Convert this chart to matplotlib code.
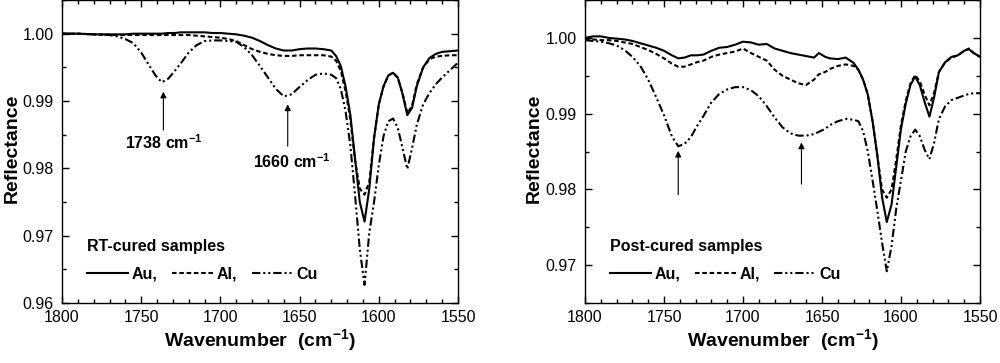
import matplotlib
matplotlib.use("Agg")
import matplotlib.pyplot as plt
from matplotlib.ticker import MultipleLocator, FormatStrFormatter

plt.rcParams["font.family"] = ["Liberation Sans", "DejaVu Sans"]
plt.rcParams["mathtext.fontset"] = "custom"
plt.rcParams["mathtext.rm"] = "Liberation Sans"
plt.rcParams["mathtext.bf"] = "Liberation Sans:bold"

# ---------------------------------------------------------------------------
# Data
# ---------------------------------------------------------------------------

# RT-cured samples
wn_rt = [1800, 1790, 1780, 1770, 1765, 1760, 1755, 1750, 1745, 1741,
         1737, 1733, 1729, 1725, 1720, 1715, 1710, 1705, 1700, 1695,
         1690, 1685, 1680, 1675, 1670, 1665, 1660, 1655, 1650, 1645,
         1640, 1635, 1630, 1627, 1624, 1621, 1618, 1615, 1612, 1609,
         1606, 1603, 1600, 1597, 1594, 1591, 1588, 1585, 1582, 1579,
         1576, 1572, 1568, 1564, 1560, 1555, 1550]
au_rt = [1.0000, 1.0000, 0.9999, 0.9999, 0.9999, 0.9999, 1.0000, 1.0000, 1.0000, 1.0000,
         1.0000, 1.0001, 1.0001, 1.0002, 1.0002, 1.0002, 1.0002, 1.0001, 1.0001, 1.0000,
         0.9999, 0.9997, 0.9994, 0.9989, 0.9983, 0.9978, 0.9975, 0.9975, 0.9977, 0.9978,
         0.9978, 0.9977, 0.9975, 0.9967, 0.9952, 0.9922, 0.9880, 0.9815, 0.9750, 0.9721,
         0.9770, 0.9845, 0.9895, 0.9922, 0.9938, 0.9942, 0.9935, 0.9910, 0.9879, 0.9890,
         0.9922, 0.9950, 0.9964, 0.9970, 0.9973, 0.9974, 0.9975]
al_rt = [1.0000, 1.0000, 0.9999, 0.9998, 0.9998, 0.9998, 0.9998, 0.9998, 0.9998, 0.9998,
         0.9998, 0.9998, 0.9998, 0.9998, 0.9998, 0.9997, 0.9996, 0.9995, 0.9994, 0.9992,
         0.9989, 0.9983, 0.9977, 0.9973, 0.9970, 0.9968, 0.9967, 0.9967, 0.9968, 0.9968,
         0.9968, 0.9968, 0.9966, 0.9960, 0.9945, 0.9915, 0.9873, 0.9812, 0.9770, 0.9761,
         0.9780, 0.9845, 0.9895, 0.9922, 0.9938, 0.9942, 0.9934, 0.9912, 0.9882, 0.9893,
         0.9925, 0.9950, 0.9962, 0.9966, 0.9967, 0.9968, 0.9968]
cu_rt = [1.0000, 1.0000, 0.9999, 0.9998, 0.9996, 0.9992, 0.9986, 0.9972, 0.9953, 0.9938,
         0.9928, 0.9933, 0.9944, 0.9956, 0.9972, 0.9983, 0.9989, 0.9990, 0.9990, 0.9989,
         0.9988, 0.9980, 0.9968, 0.9952, 0.9935, 0.9918, 0.9907, 0.9910, 0.9921, 0.9931,
         0.9939, 0.9941, 0.9939, 0.9934, 0.9918, 0.9885, 0.9835, 0.9760, 0.9680, 0.9627,
         0.9705, 0.9750, 0.9805, 0.9848, 0.9870, 0.9874, 0.9860, 0.9830, 0.9799, 0.9830,
         0.9865, 0.9895, 0.9912, 0.9925, 0.9935, 0.9946, 0.9957]

# Post-cured samples
wn_post = [1800, 1795, 1790, 1785, 1780, 1775, 1770, 1765, 1760, 1755,
           1750, 1745, 1741, 1737, 1733, 1729, 1725, 1720, 1715, 1710,
           1705, 1700, 1695, 1690, 1685, 1680, 1675, 1670, 1665, 1660,
           1655, 1652, 1648, 1645, 1640, 1635, 1630, 1627, 1624, 1621,
           1618, 1615, 1612, 1609, 1606, 1603, 1600, 1597, 1594, 1591,
           1588, 1585, 1582, 1579, 1576, 1572, 1568, 1564, 1560, 1557,
           1554, 1550]
au_post = [1.0000, 1.0002, 1.0002, 1.0000, 0.9999, 0.9998, 0.9996, 0.9993, 0.9990, 0.9987,
           0.9983, 0.9977, 0.9973, 0.9974, 0.9977, 0.9977, 0.9978, 0.9983, 0.9987, 0.9988,
           0.9991, 0.9995, 0.9994, 0.9991, 0.9992, 0.9986, 0.9983, 0.9980, 0.9978, 0.9976,
           0.9974, 0.9980, 0.9975, 0.9973, 0.9972, 0.9974, 0.9967, 0.9958, 0.9945, 0.9925,
           0.9890, 0.9845, 0.9790, 0.9757, 0.9780, 0.9830, 0.9880, 0.9913, 0.9938, 0.9949,
           0.9937, 0.9915, 0.9896, 0.9922, 0.9955, 0.9968, 0.9975, 0.9977, 0.9983, 0.9985,
           0.9980, 0.9975]
al_post = [0.9998, 0.9998, 0.9997, 0.9997, 0.9996, 0.9994, 0.9992, 0.9988, 0.9984, 0.9979,
           0.9973, 0.9966, 0.9962, 0.9962, 0.9965, 0.9968, 0.9970, 0.9975, 0.9978, 0.9980,
           0.9982, 0.9986, 0.9980, 0.9975, 0.9970, 0.9958, 0.9950, 0.9945, 0.9940, 0.9938,
           0.9945, 0.9952, 0.9955, 0.9959, 0.9963, 0.9965, 0.9963, 0.9958, 0.9945, 0.9925,
           0.9890, 0.9845, 0.9800, 0.9789, 0.9800, 0.9840, 0.9885, 0.9917, 0.9940, 0.9951,
           0.9942, 0.9925, 0.9911, 0.9928, 0.9955, 0.9968, 0.9974, 0.9977, 0.9983, 0.9986,
           0.9980, 0.9975]
cu_post = [0.9997, 0.9996, 0.9995, 0.9993, 0.9990, 0.9984, 0.9975, 0.9963, 0.9945, 0.9922,
           0.9898, 0.9870, 0.9857, 0.9860, 0.9869, 0.9884, 0.9897, 0.9915, 0.9926, 0.9932,
           0.9935, 0.9935, 0.9931, 0.9923, 0.9910, 0.9895, 0.9882, 0.9874, 0.9871, 0.9871,
           0.9873, 0.9876, 0.9880, 0.9885, 0.9890, 0.9893, 0.9892, 0.9890, 0.9877, 0.9850,
           0.9812, 0.9772, 0.9730, 0.9692, 0.9725, 0.9775, 0.9812, 0.9850, 0.9870, 0.9879,
           0.9870, 0.9852, 0.9840, 0.9862, 0.9893, 0.9910, 0.9918, 0.9921, 0.9924, 0.9926,
           0.9927, 0.9927]

# arrows: (wavenumber, tip value, tail value)
arrows_rt = [(1736, 0.9914, 0.9857), (1657.5, 0.9895, 0.9833)]
arrows_post = [(1741, 0.9851, 0.9793), (1663, 0.9862, 0.9807)]
labels_rt = [(1736, 0.9838, "1738 cm$^{\\mathbf{-1}}$"), (1655, 0.9810, "1660 cm$^{\\mathbf{-1}}$")]

SERIES_LABELS = ["Au,", "Al,", "Cu"]

# ---------------------------------------------------------------------------
# Style
# ---------------------------------------------------------------------------
LW = 1.5
STYLE_AU = "-"
STYLE_AL = (0, (2.2, 1.3))
STYLE_CU = (0, (4.0, 1.4, 1.0, 1.4, 1.0, 1.4))
TICK_FS = 11.5
LABEL_FS = 14


def draw_panel(ax, wn, au, al, cu, ylim, yticks, title, arrows, labels, ylab_x):
    la, = ax.plot(wn, au, color="black", lw=LW, ls=STYLE_AU)
    lb, = ax.plot(wn, al, color="black", lw=LW, ls=STYLE_AL)
    lc, = ax.plot(wn, cu, color="black", lw=LW, ls=STYLE_CU)

    ax.set_xlim(1800, 1550)
    ax.set_ylim(*ylim)
    ax.set_xticks([1800, 1750, 1700, 1650, 1600, 1550])
    ax.xaxis.set_minor_locator(MultipleLocator(10))
    ax.set_yticks(yticks)
    ax.yaxis.set_minor_locator(MultipleLocator(0.005))
    ax.yaxis.set_major_formatter(FormatStrFormatter("%.2f"))
    ax.tick_params(which="both", direction="in", top=True, right=True,
                   labelsize=TICK_FS, width=1.0)
    ax.tick_params(which="major", length=5)
    ax.tick_params(which="minor", length=3)
    ax.tick_params(axis="y", pad=6)
    ax.tick_params(axis="x", pad=5)
    for sp in ax.spines.values():
        sp.set_linewidth(1.0)

    ax.set_xlabel("Wavenumber  (cm$^{\\mathbf{-1}}$)", fontsize=LABEL_FS,
                  fontweight="bold", labelpad=2)
    ax.set_ylabel("Reflectance", fontsize=LABEL_FS, fontweight="bold")
    ax.yaxis.set_label_coords(ylab_x, 0.51)

    for x, tip, tail in arrows:
        ax.annotate("", xy=(x, tip), xytext=(x, tail),
                    arrowprops=dict(arrowstyle="-|>", color="black", lw=0.8,
                                    mutation_scale=9, shrinkA=0, shrinkB=0))
    for x, y, s in labels:
        ax.text(x, y, s, ha="center", va="center", fontsize=11.5, fontweight="bold")

    leg = ax.legend([la, lb, lc], SERIES_LABELS, ncol=3, loc="lower left",
                    bbox_to_anchor=(0.063, 0.07), frameon=False,
                    title=title, alignment="left",
                    title_fontproperties={"weight": "bold", "size": 11.5},
                    prop={"weight": "bold", "size": 11.5},
                    handlelength=2.6, handletextpad=0.2, columnspacing=0.9,
                    borderpad=0, borderaxespad=0)
    leg._legend_box.sep = 9
    return leg


fig = plt.figure(figsize=(10.0, 3.63), dpi=100)
ax1 = fig.add_axes([0.062, 0.165, 0.396, 0.835])
ax2 = fig.add_axes([0.585, 0.165, 0.395, 0.835])

draw_panel(ax1, wn_rt, au_rt, al_rt, cu_rt, (0.96, 1.005),
           [0.96, 0.97, 0.98, 0.99, 1.00], "RT-cured samples", arrows_rt, labels_rt,
           -0.104)
draw_panel(ax2, wn_post, au_post, al_post, cu_post, (0.965, 1.005),
           [0.97, 0.98, 0.99, 1.00], "Post-cured samples", arrows_post, [],
           -0.108)

fig.savefig("out.png", dpi=100)
